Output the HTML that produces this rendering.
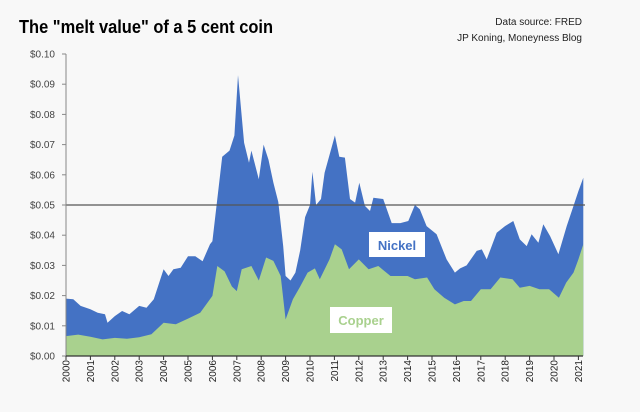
<!DOCTYPE html>
<html><head><meta charset="utf-8"><style>
body{margin:0;background:#f8f8f8;}
svg{display:block;font-family:"Liberation Sans",sans-serif;}
</style></head><body>
<svg id="chart" width="640" height="412" viewBox="0 0 640 412">
<rect x="0" y="0" width="640" height="412" fill="#f8f8f8"/>
<text x="19" y="33" font-size="18" font-weight="bold" fill="#000" textLength="254" lengthAdjust="spacingAndGlyphs">The "melt value" of a 5 cent coin</text>
<text x="582" y="25" font-size="10" text-anchor="end" fill="#222">Data source: FRED</text>
<text x="582" y="41" font-size="10" text-anchor="end" fill="#222">JP Koning, Moneyness Blog</text>
<g id="plot"></g>
</svg>
<script>
const totalYears=[2000,2000.3,2000.6,2001,2001.3,2001.6,2001.7,2002,2002.3,2002.6,2003,2003.3,2003.6,2004,2004.2,2004.4,2004.7,2005,2005.3,2005.6,2005.9,2006,2006.2,2006.4,2006.7,2006.9,2007.05,2007.3,2007.5,2007.6,2007.9,2008.1,2008.3,2008.5,2008.7,2008.9,2009,2009.2,2009.4,2009.6,2009.8,2010,2010.1,2010.25,2010.45,2010.6,2011.02,2011.2,2011.43,2011.64,2011.85,2012.02,2012.25,2012.46,2012.6,2013,2013.35,2013.7,2014.03,2014.3,2014.5,2014.78,2015.19,2015.6,2015.94,2016.15,2016.42,2016.83,2017.04,2017.24,2017.65,2017.99,2018.33,2018.6,2018.88,2019.08,2019.36,2019.56,2019.84,2020.18,2020.52,2020.8,2021,2021.2];
const totalValues=[.019,.0188,.0166,.0155,.0143,.0138,.011,.0132,.0149,.0138,.0166,.016,.0188,.0287,.0265,.0287,.0292,.033,.033,.0314,.037,.038,.052,.066,.068,.073,.093,.0706,.064,.068,.0585,.070,.065,.0574,.051,.0364,.0265,.025,.0276,.035,.046,.050,.061,.050,.052,.0607,.073,.066,.0657,.052,.0508,.0574,.0497,.048,.0524,.052,.044,.044,.0447,.050,.0486,.043,.0403,.032,.0276,.029,.030,.0348,.0353,.032,.0408,.043,.0447,.0386,.0364,.0403,.0375,.0436,.0397,.0337,.043,.0497,.0546,.059];
const copperYears=[2000,2000.5,2001,2001.5,2002,2002.5,2003,2003.5,2004,2004.5,2005,2005.5,2006,2006.2,2006.5,2006.8,2007,2007.2,2007.6,2007.9,2008.2,2008.5,2008.8,2009,2009.3,2009.6,2009.9,2010.2,2010.4,2010.8,2011.02,2011.3,2011.6,2012,2012.4,2012.8,2013.3,2014,2014.3,2014.8,2015.1,2015.5,2015.94,2016.3,2016.6,2017,2017.4,2017.8,2018.3,2018.6,2019,2019.4,2019.8,2020.2,2020.5,2020.8,2021,2021.2];
const copperValues=[.0066,.0071,.0064,.0055,.006,.0057,.0062,.0072,.011,.0105,.0124,.0143,.0199,.0298,.028,.023,.0215,.0287,.0298,.025,.0326,.0315,.0265,.0121,.0188,.023,.0276,.029,.0254,.032,.037,.0353,.0287,.032,.0287,.0298,.0265,.0265,.0254,.026,.0221,.0193,.0171,.0182,.0182,.0221,.0221,.026,.0254,.0226,.0232,.0221,.0221,.0193,.0243,.0276,.032,.037];
const yTicks=[0,.01,.02,.03,.04,.05,.06,.07,.08,.09,.10];
const yTickLabels=["$0.00","$0.01","$0.02","$0.03","$0.04","$0.05","$0.06","$0.07","$0.08","$0.09","$0.10"];
const xTicks=[2000,2001,2002,2003,2004,2005,2006,2007,2008,2009,2010,2011,2012,2013,2014,2015,2016,2017,2018,2019,2020,2021];
const refValue=0.05;

const NS="http://www.w3.org/2000/svg";
const g=document.getElementById('plot');
const x0=66,y0=356,endX=583;
const xs=v=>x0+(v-2000)*24.4;
const ys=v=>y0-v*3020;
function mk(t,a){const e=document.createElementNS(NS,t);for(const k in a)e.setAttribute(k,a[k]);g.appendChild(e);return e;}
function area(years,vals){let d='M'+xs(years[0])+','+y0;years.forEach((yr,i)=>d+=' L'+xs(yr).toFixed(1)+','+ys(vals[i]).toFixed(1));d+=' L'+xs(years[years.length-1])+','+y0+' Z';return d;}
const nk=mk('path',{d:area(totalYears,totalValues),fill:'#4472c4'});


const cu=mk('path',{d:area(copperYears,copperValues),fill:'#a9d18e'});


const ref=mk('line',{x1:x0,x2:endX+2,y1:ys(refValue),y2:ys(refValue),stroke:'#555','stroke-width':1.2});


const ya=mk('line',{x1:x0,x2:x0,y1:ys(.1),y2:y0,stroke:'#888','stroke-width':1});


const xa=mk('line',{x1:x0,x2:endX,y1:y0,y2:y0,stroke:'#333','stroke-width':1.2});


yTicks.forEach((v,i)=>{
  const tk=mk('line',{x1:x0-4,x2:x0,y1:ys(v),y2:ys(v),stroke:'#888'});
  
  
  const t=mk('text',{x:55,y:ys(v)+3.5,'font-size':10,'text-anchor':'end',fill:'#444'});
  t.textContent=yTickLabels[i];
  
  
});
xTicks.forEach(v=>{
  const tk=mk('line',{x1:xs(v),x2:xs(v),y1:y0,y2:y0+4,stroke:'#333'});
  
  
  const t=mk('text',{x:0,y:0,'font-size':10,'text-anchor':'end',fill:'#222',transform:'translate('+(xs(v)+3.5)+','+(y0+4)+') rotate(-90)'});
  t.textContent=String(v);
  
  
});
const nb=mk('rect',{x:369,y:232,width:56,height:25,fill:'#fff'});


const nt=mk('text',{x:397,y:250,'font-size':13,'font-weight':'bold','text-anchor':'middle',fill:'#4472c4'});
nt.textContent='Nickel';


const cb=mk('rect',{x:330,y:307,width:62,height:26,fill:'#fff'});


const ct=mk('text',{x:361,y:325,'font-size':13,'font-weight':'bold','text-anchor':'middle',fill:'#a9d18e'});
ct.textContent='Copper';


</script>
</body></html>
